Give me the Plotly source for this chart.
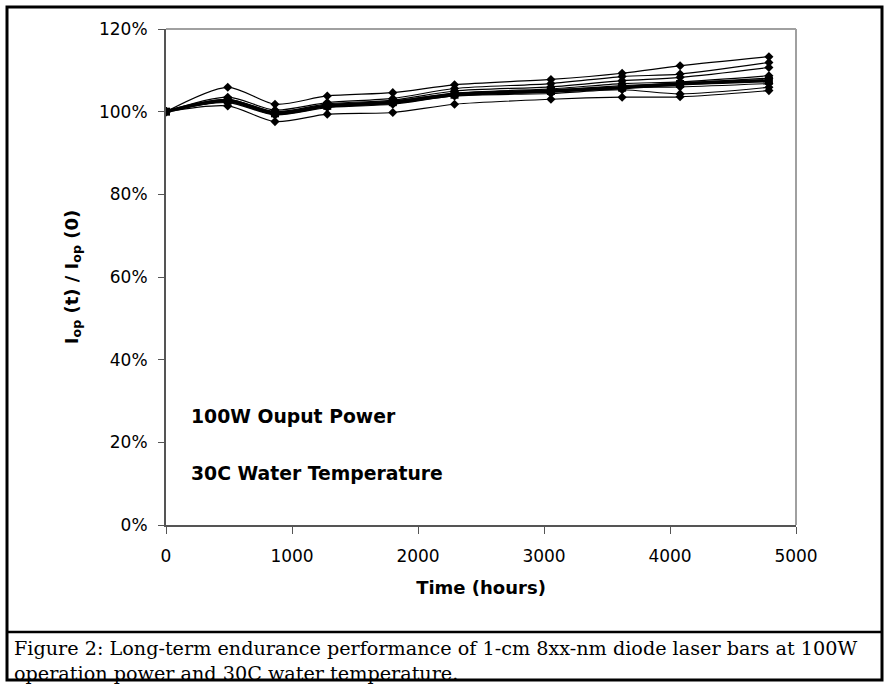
import plotly.graph_objects as go

hours = [0, 490, 865, 1280, 1800, 2290, 3055, 3620, 4080, 4785]

bar_a = [100, 105.9, 101.8, 103.8, 104.6, 106.5, 107.8, 109.3, 111.1, 113.3]
bar_b = [100, 103.5, 100.4, 102.2, 103.2, 105.6, 106.8, 108.5, 109.1, 111.9]
bar_c = [100, 103.0, 100.0, 101.9, 102.8, 105.0, 106.0, 107.5, 108.3, 110.7]
bar_d = [100, 102.8, 99.8, 101.6, 102.5, 104.5, 105.5, 106.8, 107.2, 108.7]
bar_e = [100, 102.6, 99.6, 101.4, 102.2, 104.2, 105.2, 106.3, 106.9, 108.1]
bar_f = [100, 102.4, 99.4, 101.2, 102.0, 104.0, 104.8, 105.8, 106.0, 106.8]
bar_g = [100, 102.2, 99.2, 101.0, 101.8, 103.8, 104.4, 105.3, 104.3, 105.9]
bar_h = [100, 101.4, 97.6, 99.4, 99.8, 101.8, 103.0, 103.5, 103.6, 105.1]
average = [100, 102.7, 99.6, 101.4, 102.3, 104.1, 105.0, 105.8, 106.7, 107.5]

thin_series = [bar_a, bar_b, bar_c, bar_d, bar_e, bar_f, bar_g, bar_h]

y_ticks = [0, 20, 40, 60, 80, 100, 120]
x_ticks = [0, 1000, 2000, 3000, 4000, 5000]

caption_lines = [
    "Figure 2: Long-term endurance performance of 1-cm 8xx-nm diode laser bars at 100W",
    "operation power and 30C water temperature.",
]

W, H = 888, 685
L, R, T, B = 166, 796, 29, 525

SANS = "DejaVu Sans, Arial"
SERIF = "DejaVu Serif, Times New Roman"


def px(p):
    return (p - L) / (R - L)


def py(p):
    return (B - p) / (B - T)


fig = go.Figure()
for s in thin_series:
    fig.add_trace(go.Scatter(
        x=hours, y=s, mode="lines+markers",
        line=dict(color="black", width=1.2, shape="spline", smoothing=0.8),
        marker=dict(symbol="diamond", size=7, color="black"),
        showlegend=False))
fig.add_trace(go.Scatter(
    x=hours, y=average, mode="lines+markers",
    line=dict(color="black", width=3.5, shape="spline", smoothing=0.8),
    marker=dict(symbol="square", size=8, color="black"),
    showlegend=False))

shapes = [
    dict(type="rect", xref="paper", yref="paper",
         x0=px(7), x1=px(882), y0=py(680), y1=py(7),
         line=dict(color="black", width=3), layer="below"),
    dict(type="line", xref="paper", yref="paper",
         x0=px(7), x1=px(882), y0=py(632), y1=py(632),
         line=dict(color="black", width=2.5)),
    dict(type="line", xref="paper", yref="paper",
         x0=0, x1=1, y0=1, y1=1, line=dict(color="#a0a0a0", width=2)),
    dict(type="line", xref="paper", yref="paper",
         x0=1, x1=1, y0=0, y1=1, line=dict(color="#a0a0a0", width=2)),
]

annotations = [
    dict(text="<b>100W Ouput Power</b>", xref="paper", yref="paper",
         x=px(189), y=py(416), xanchor="left", yanchor="middle",
         showarrow=False, font=dict(family=SANS, size=18.8, color="black")),
    dict(text="<b>30C Water Temperature</b>", xref="paper", yref="paper",
         x=px(189), y=py(473), xanchor="left", yanchor="middle",
         showarrow=False, font=dict(family=SANS, size=18.8, color="black")),
    dict(text="<br>".join(caption_lines), xref="paper", yref="paper",
         x=px(12), y=py(661), xanchor="left", yanchor="middle", align="left",
         showarrow=False, font=dict(family=SERIF, size=19.2, color="black")),
]

fig.update_layout(
    width=W, height=H,
    margin=dict(l=L, r=W - R, t=T, b=H - B, autoexpand=False),
    paper_bgcolor="white", plot_bgcolor="white",
    font=dict(family=SANS, color="black"),
    shapes=shapes, annotations=annotations,
    xaxis=dict(
        range=[0, 5000], tickvals=x_ticks, ticktext=[str(v) for v in x_ticks],
        showgrid=False, zeroline=False, showline=True, linecolor="#555555", linewidth=1.5,
        ticks="outside", ticklen=7, tickcolor="#555555", tickwidth=1.2,
        ticklabelstandoff=8,
        tickfont=dict(size=17), automargin=False,
        title=dict(text="<b>Time (hours)</b>", font=dict(size=18), standoff=16)),
    yaxis=dict(
        range=[0, 120], tickvals=y_ticks, ticktext=[f"{v}%" for v in y_ticks],
        showgrid=False, zeroline=False, showline=True, linecolor="#555555", linewidth=2,
        ticks="outside", ticklen=6, tickcolor="#555555", tickwidth=1.2,
        ticklabelstandoff=7,
        tickfont=dict(size=17), automargin=False,
        title=dict(text="<b>I<sub>op</sub> (t) / I<sub>op</sub> (0)</b>", font=dict(size=18), standoff=16)),
)

fig.write_html("out.html", config={"displayModeBar": False},
               post_script="document.body.style.margin='0';")
